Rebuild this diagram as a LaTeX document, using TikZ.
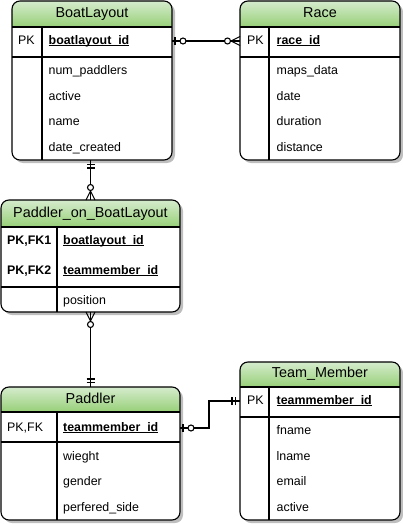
\documentclass[tikz,border=0pt]{standalone}
\usepackage{fontspec}
\setmainfont{Liberation Sans}
\usetikzlibrary{calc}
\definecolor{hdrtop}{RGB}{213,235,205}
\definecolor{hdrbot}{RGB}{151,208,119}
\definecolor{shadowc}{RGB}{190,190,190}
\newcommand{\undl}[1]{\setbox0\hbox{#1}\rlap{\rule[-1.6pt]{\wd0}{0.9pt}}\box0}
\newcommand{\erbox}[4]{%
  \fill[shadowc, rounded corners=8pt] ($(#1.south west)+(3,3)$) rectangle ($(#1.north east)+(3,3)$);
  \fill[white, rounded corners=8pt] (#1.south west) rectangle (#1.north east);
  \begin{scope}
    \clip[rounded corners=8pt] (#1.south west) rectangle (#1.north east);
    \shade[top color=hdrtop, bottom color=hdrbot] (#1.north west) rectangle ($(#1.north east)+(0,#2)$);
  \end{scope}
  \draw[thinline] ($(#1.north west)+(0,#2)$) -- ($(#1.north east)+(0,#2)$);
  \draw[thinline] ($(#1.north west)+(0,#3)$) -- ($(#1.north east)+(0,#3)$);
  \draw[thinline] ($(#1.north west)+(#4,#2)$) -- ($(#1.south west)+(#4,0)$);
  \draw[thinline, rounded corners=8pt] (#1.south west) rectangle (#1.north east);
}
\tikzset{
  ent/.style={rectangle, inner sep=0pt, outer sep=0pt},
  thinline/.style={draw=black, line width=1.1pt},
  relline/.style={draw=black, line width=1.1pt},
  ttl/.style={inner sep=0pt, font=\fontsize{14.4}{16}\selectfont, text height=10pt, text depth=3pt},
  txt/.style={inner sep=0pt, anchor=west, font=\fontsize{12.4}{14}\selectfont, text height=8.8pt, text depth=2.4pt},
  keyb/.style={txt, font=\fontsize{12.4}{14}\selectfont\bfseries},
  pics/zeroone/.style={code={
    \draw[relline] (3,-4) -- (3,4);
    \draw[relline, fill=white] (11,0) circle (3pt);}},
  pics/zeromany/.style={code={
    \draw[relline] (0,-4.5) -- (9,0) -- (0,4.5);
    \draw[relline, fill=white] (12.5,0) circle (3pt);}},
  pics/mandone/.style={code={
    \draw[relline] (4.5,-4) -- (4.5,4) (8,-4) -- (8,4);}},
}
\begin{document}
\begin{tikzpicture}[x=1pt, y=-1pt]
\useasboundingbox (0,0) rectangle (402,524);
% entity frames
\node[ent, minimum width=160pt, minimum height=159pt] (bl) at (92,80.5) {};
\node[ent, minimum width=160pt, minimum height=159pt] (race) at (320,80.5) {};
\node[ent, minimum width=179pt, minimum height=112pt] (pob) at (90.5,256) {};
\node[ent, minimum width=179pt, minimum height=133pt] (pad) at (90.5,453.5) {};
\node[ent, minimum width=160pt, minimum height=158pt] (tm) at (320,441) {};
\erbox{bl}{26}{56}{30}
\erbox{race}{26}{56}{29}
\erbox{pob}{27}{87}{56}
\erbox{pad}{25}{55}{56}
\erbox{tm}{25}{55}{29}
% BoatLayout
\node[ttl] (blt) at (92,14) {BoatLayout};
\node[txt] (blpk) at (18,41) {PK};
\node[keyb] (blid) at (48.5,41) {\undl{boatlayout\_id}};
\node[txt] (bla1) at (48.5,71) {num\_paddlers};
\node[txt] (bla2) at (48.5,97) {active};
\node[txt] (bla3) at (48.5,122) {name};
\node[txt] (bla4) at (48.5,148) {date\_created};
% Race
\node[ttl] (rat) at (320,14) {Race};
\node[txt] (rapk) at (247,41) {PK};
\node[keyb] (raid) at (276.5,41) {\undl{race\_id}};
\node[txt] (raa1) at (276.5,71) {maps\_data};
\node[txt] (raa2) at (276.5,97) {date};
\node[txt] (raa3) at (276.5,122) {duration};
\node[txt] (raa4) at (276.5,148) {distance};
% Paddler_on_BoatLayout
\node[ttl] (pobt) at (90.5,214) {Paddler\_on\_BoatLayout};
\node[keyb] (pobk1) at (7,241) {PK,FK1};
\node[keyb] (pobk2) at (7,271) {PK,FK2};
\node[keyb] (pobid1) at (63,241) {\undl{boatlayout\_id}};
\node[keyb] (pobid2) at (63,271) {\undl{teammember\_id}};
\node[txt] (poba1) at (63,301) {position};
% Paddler
\node[ttl] (padt) at (90.5,400) {Paddler};
\node[txt] (padk) at (7,428) {PK,FK};
\node[keyb] (padid) at (63,428) {\undl{teammember\_id}};
\node[txt] (pada1) at (63,457) {wieght};
\node[txt] (pada2) at (63,482) {gender};
\node[txt] (pada3) at (63,508) {perfered\_side};
% Team_Member
\node[ttl] (tmt) at (320,374) {Team\_Member};
\node[txt] (tmk) at (247,401) {PK};
\node[keyb] (tmid) at (276.5,401) {\undl{teammember\_id}};
\node[txt] (tma1) at (276.5,431) {fname};
\node[txt] (tma2) at (276.5,457) {lname};
\node[txt] (tma3) at (276.5,482) {email};
\node[txt] (tma4) at (276.5,508) {active};
% connectors
\draw[relline] (bl.east |- blpk) -- (race.west |- rapk);
\draw[relline] (bl.south -| pob.north) -- (pob.north);
\draw[relline] (pob.south) -- (pad.north);
\draw[relline] (pad.east |- padk) -- ++(29,0) |- (tm.west |- tmk);
% ends
\pic at (bl.east |- blpk) {zeroone};
\pic[rotate=180] at (race.west |- rapk) {zeromany};
\pic[rotate=-90] at (bl.south -| pob.north) {mandone};
\pic[rotate=90] at (pob.north) {zeromany};
\pic[rotate=-90] at (pob.south) {zeromany};
\pic[rotate=90] at (pad.north) {mandone};
\pic at (pad.east |- padk) {zeroone};
\pic[rotate=180] at (tm.west |- tmk) {mandone};
\end{tikzpicture}
\end{document}
